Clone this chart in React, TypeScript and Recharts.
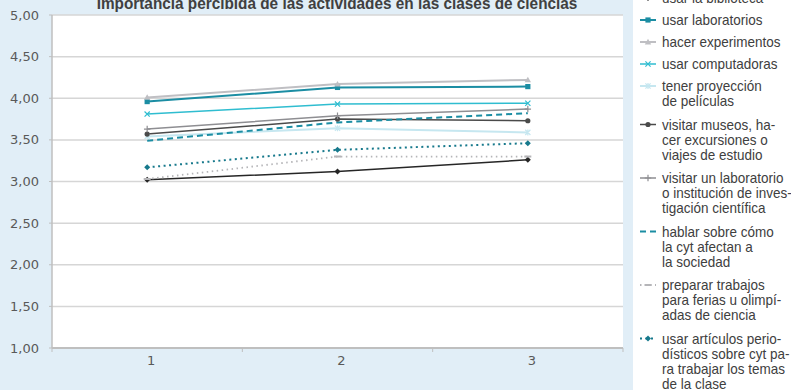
import React from 'react';
import { LineChart, Line, XAxis, YAxis, CartesianGrid } from 'recharts';

// Survey waves on the horizontal axis
const categories = ['1', '2', '3'];
const yTicks = [1, 1.5, 2, 2.5, 3, 3.5, 4, 4.5, 5];
const xTicks = [0, 0.5, 1, 1.5, 2, 2.5, 3];

const chartTitle = 'Importancia percibida de las actividades en las clases de ciencias';

// Mean perceived importance per activity
const biblioteca = [3.02, 3.12, 3.26];
const laboratorios = [3.96, 4.13, 4.14];
const experimentos = [4.01, 4.17, 4.22];
const computadoras = [3.81, 3.93, 3.94];
const peliculas = [3.54, 3.64, 3.59];
const museos = [3.57, 3.75, 3.73];
const visitaLaboratorio = [3.63, 3.79, 3.87];
const hablarSociedad = [3.49, 3.71, 3.82];
const ferias = [3.03, 3.3, 3.3];
const articulos = [3.17, 3.38, 3.46];

type Marker = 'diamond' | 'square' | 'triangle' | 'x' | 'star' | 'circle' | 'plus' | 'dash' | 'none';

interface Series {
  key: string;
  values: number[];
  label: string[];
  color: string;
  width: number;
  dash?: string;
  marker: Marker;
}

const series: Series[] = [
  { key: 'biblioteca', values: biblioteca, label: ['usar la biblioteca'], color: '#262626', width: 1.5, marker: 'diamond' },
  { key: 'laboratorios', values: laboratorios, label: ['usar laboratorios'], color: '#1b8da3', width: 2, marker: 'square' },
  { key: 'experimentos', values: experimentos, label: ['hacer experimentos'], color: '#bfbfc3', width: 2, marker: 'triangle' },
  { key: 'computadoras', values: computadoras, label: ['usar computadoras'], color: '#2fbdd0', width: 1.5, marker: 'x' },
  { key: 'peliculas', values: peliculas, label: ['tener proyección', 'de películas'], color: '#c6e7f0', width: 2, marker: 'star' },
  { key: 'museos', values: museos, label: ['visitar museos, ha-', 'cer excursiones o', 'viajes de estudio'], color: '#4a4a4a', width: 1.5, marker: 'circle' },
  { key: 'visitaLaboratorio', values: visitaLaboratorio, label: ['visitar un laboratorio', 'o institución de inves-', 'tigación científica'], color: '#8e8e92', width: 1.5, marker: 'plus' },
  { key: 'hablarSociedad', values: hablarSociedad, label: ['hablar sobre cómo', 'la cyt afectan a', 'la sociedad'], color: '#1b8da3', width: 2, dash: '6 4', marker: 'none' },
  { key: 'ferias', values: ferias, label: ['preparar trabajos', 'para ferias u olimpí-', 'adas de ciencia'], color: '#b5b5b8', width: 1.8, dash: '1.5 3.5', marker: 'dash' },
  { key: 'articulos', values: articulos, label: ['usar artículos perio-', 'dísticos sobre cyt pa-', 'ra trabajar los temas', 'de la clase'], color: '#17798c', width: 2, dash: '2 3.5', marker: 'diamond' },
];

const data = categories.map((c, i) => {
  const row: Record<string, number | string> = { x: i + 0.5, cat: c };
  series.forEach((s) => {
    row[s.key] = s.values[i];
  });
  return row;
});

const AXIS = '#bfbfbf';
const GRID = '#d6d6d6';
const TEXT = '#404040';
const LEGEND_FONT = '"Liberation Sans", Arial, sans-serif';

function markerShape(kind: Marker, cx: number, cy: number, color: string) {
  const r = 2.6;
  switch (kind) {
    case 'diamond':
      return <path d={`M${cx},${cy - 3} L${cx + 3},${cy} L${cx},${cy + 3} L${cx - 3},${cy} Z`} fill={color} />;
    case 'square':
      return <rect x={cx - r} y={cy - r} width={r * 2} height={r * 2} fill={color} />;
    case 'triangle':
      return <path d={`M${cx},${cy - 3.2} L${cx + 3.2},${cy + 2.4} L${cx - 3.2},${cy + 2.4} Z`} fill={color} />;
    case 'x':
      return (
        <path d={`M${cx - r},${cy - r} L${cx + r},${cy + r} M${cx - r},${cy + r} L${cx + r},${cy - r}`} stroke={color} strokeWidth={1.2} fill="none" />
      );
    case 'star':
      return (
        <path
          d={`M${cx - r},${cy - r} L${cx + r},${cy + r} M${cx - r},${cy + r} L${cx + r},${cy - r} M${cx},${cy - 3} L${cx},${cy + 3}`}
          stroke={color}
          strokeWidth={1.2}
          fill="none"
        />
      );
    case 'circle':
      return <circle cx={cx} cy={cy} r={2.6} fill={color} />;
    case 'plus':
      return <path d={`M${cx - 3.2},${cy} L${cx + 3.2},${cy} M${cx},${cy - 3.2} L${cx},${cy + 3.2}`} stroke={color} strokeWidth={1.2} fill="none" />;
    case 'dash':
      return <path d={`M${cx - 3.5},${cy} L${cx + 3.5},${cy}`} stroke={color} strokeWidth={2} fill="none" />;
    default:
      return null;
  }
}

const makeDot = (s: Series) => (props: any) => {
  const { cx, cy, index } = props;
  return <g key={`${s.key}-${index}`}>{markerShape(s.marker, cx, cy, s.color)}</g>;
};

const formatY = (v: number) => v.toFixed(2).replace('.', ',');

const XTick = (props: any) => {
  const { x, y, payload } = props;
  const v = payload.value as number;
  if (Number.isInteger(v)) {
    return <line x1={x} x2={x} y1={y} y2={y + 4} stroke={AXIS} strokeWidth={1} />;
  }
  return (
    <text x={x + 4} y={y + 12} textAnchor="middle" dominantBaseline="central" fill="#595959" fontSize={13} fontFamily='"DejaVu Sans", sans-serif'>
      {categories[Math.floor(v)]}
    </text>
  );
};

// Legend typography: narrowed sans, tight leading inside an entry
const LEGEND_SIZE = 15;
const LEGEND_SCALE = 0.9;
const LINE_H = 15;
const GAP_SINGLE = 7;
const GAP_MULTI = 8.5;

function Legend() {
  let y = -2;
  const items = series.map((s) => {
    const top = y;
    y += s.label.length * LINE_H + (s.label.length > 1 ? GAP_MULTI : GAP_SINGLE);
    return (
      <g key={s.key}>
        <line x1={4} x2={20} y1={top} y2={top} stroke={s.color} strokeWidth={s.width} strokeDasharray={s.dash} />
        {markerShape(s.marker, 12, top, s.color)}
        <g transform={`translate(26,0) scale(${LEGEND_SCALE},1)`}>
          <text x={0} y={top} fill={TEXT} fontSize={LEGEND_SIZE} fontFamily={LEGEND_FONT}>
            {s.label.map((ln, i) => (
              <tspan key={i} x={0} y={top + i * LINE_H} dominantBaseline="central">
                {ln}
              </tspan>
            ))}
          </text>
        </g>
      </g>
    );
  });
  return (
    <svg width={158} height={390} style={{ position: 'absolute', left: 636, top: 0 }}>
      {items}
    </svg>
  );
}

export default function App() {
  return (
    <div style={{ position: 'absolute', left: 0, top: 0, width: 791, height: 390, background: '#ffffff', overflow: 'hidden' }}>
      <div style={{ position: 'absolute', left: 0, top: 0, width: 633, height: 390, background: '#e1eef7' }} />
      <div style={{ position: 'absolute', left: 0, top: 0 }}>
        <LineChart width={633} height={390} data={data} margin={{ top: 15, right: 10, left: 0, bottom: 12 }}>
          <CartesianGrid vertical={false} stroke={GRID} strokeWidth={1.5} fill="#ffffff" />
          <XAxis
            dataKey="x"
            type="number"
            domain={[0, 3]}
            ticks={xTicks}
            interval={0}
            height={30}
            tickSize={0}
            tickMargin={0}
            tickLine={false}
            axisLine={{ stroke: AXIS, strokeWidth: 2 }}
            tick={<XTick />}
          />
          <YAxis
            type="number"
            domain={[1, 5]}
            ticks={yTicks}
            interval={0}
            width={52}
            tickSize={3}
            tickMargin={10}
            tickFormatter={formatY}
            tickLine={{ stroke: AXIS }}
            axisLine={{ stroke: AXIS, strokeWidth: 1.5 }}
            tick={{ fill: '#595959', fontSize: 13, fontFamily: '"DejaVu Sans", sans-serif' }}
          />
          <YAxis yAxisId="r" orientation="right" type="number" domain={[0, 1]} width={0} tick={false} tickLine={false} axisLine={{ stroke: AXIS, strokeWidth: 1.5 }} />
          {series.map((s) => (
            <Line
              key={s.key}
              dataKey={s.key}
              type="linear"
              stroke={s.color}
              strokeWidth={s.width}
              strokeDasharray={s.dash}
              dot={s.marker === 'none' ? false : makeDot(s)}
              activeDot={false}
              isAnimationActive={false}
            />
          ))}
        </LineChart>
      </div>
      <svg width={633} height={20} style={{ position: 'absolute', left: 0, top: 0 }}>
        <g transform="translate(337,0) scale(0.93,1)">
          <text x={0} y={9} textAnchor="middle" fill={TEXT} fontSize={16.5} fontWeight="bold" fontFamily={LEGEND_FONT}>
            {chartTitle}
          </text>
        </g>
      </svg>
      <Legend />
    </div>
  );
}
